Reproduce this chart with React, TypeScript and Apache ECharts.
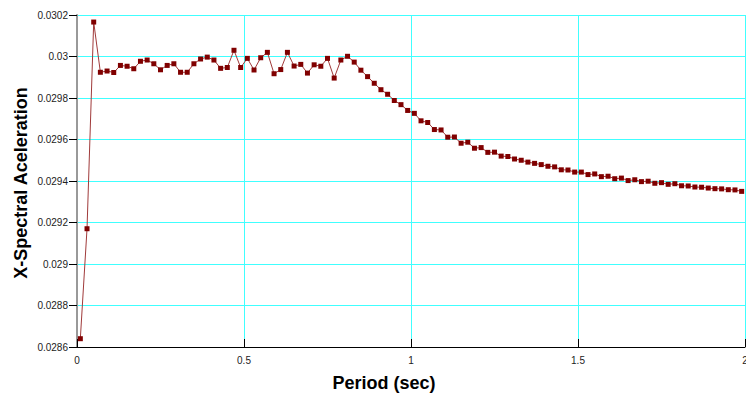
import React, { useEffect, useRef } from "react";
import * as echarts from "echarts";

const periods = [
  0.01, 0.03, 0.05, 0.07, 0.09, 0.11, 0.13, 0.15, 0.17, 0.19,
  0.21, 0.23, 0.25, 0.27, 0.29, 0.31, 0.33, 0.35, 0.37, 0.39,
  0.41, 0.43, 0.45, 0.47, 0.49, 0.51, 0.53, 0.55, 0.57, 0.59,
  0.61, 0.63, 0.65, 0.67, 0.69, 0.71, 0.73, 0.75, 0.77, 0.79,
  0.81, 0.83, 0.85, 0.87, 0.89, 0.91, 0.93, 0.95, 0.97, 0.99,
  1.01, 1.03, 1.05, 1.07, 1.09, 1.11, 1.13, 1.15, 1.17, 1.19,
  1.21, 1.23, 1.25, 1.27, 1.29, 1.31, 1.33, 1.35, 1.37, 1.39,
  1.41, 1.43, 1.45, 1.47, 1.49, 1.51, 1.53, 1.55, 1.57, 1.59,
  1.61, 1.63, 1.65, 1.67, 1.69, 1.71, 1.73, 1.75, 1.77, 1.79,
  1.81, 1.83, 1.85, 1.87, 1.89, 1.91, 1.93, 1.95, 1.97, 1.99,
];

const accel = [
  0.02864, 0.02917, 0.030166, 0.029924, 0.02993, 0.029923, 0.029957, 0.029953, 0.029941, 0.029977,
  0.029983, 0.029965, 0.029936, 0.029957, 0.029965, 0.029924, 0.029924, 0.029965, 0.029988, 0.029997,
  0.029983, 0.029943, 0.029947, 0.03003, 0.029947, 0.029991, 0.029935, 0.029994, 0.03002, 0.029917,
  0.029937, 0.03002, 0.029954, 0.029962, 0.02992, 0.02996, 0.029953, 0.029991, 0.029896, 0.029983,
  0.030001, 0.029973, 0.029934, 0.029903, 0.029871, 0.02984, 0.029818, 0.029788, 0.029768, 0.02974,
  0.029726, 0.02969, 0.029682, 0.029648, 0.029646, 0.029611, 0.029612, 0.029582, 0.029587, 0.029558,
  0.029561, 0.029538, 0.029539, 0.02952, 0.029518, 0.029506, 0.0295, 0.029491, 0.029485, 0.029479,
  0.029471, 0.029468, 0.029454, 0.029453, 0.029443, 0.029443, 0.029431, 0.029434, 0.029421, 0.029423,
  0.029411, 0.029414, 0.029402, 0.029406, 0.029397, 0.029399, 0.029389, 0.029392, 0.029384, 0.029387,
  0.029377, 0.029376, 0.029371, 0.02937, 0.029366, 0.029363, 0.029362, 0.029358, 0.029357, 0.02935,
];

const xTitle = "Period (sec)";
const yTitle = "X-Spectral Aceleration";

export default function App() {
  const ref = useRef<HTMLDivElement>(null);
  useEffect(() => {
    if (!ref.current) return;
    const chart = echarts.init(ref.current, null, { renderer: "svg" });
    const font = "'Liberation Sans', Arial, sans-serif";
    chart.setOption({
      animation: false,
      backgroundColor: "#ffffff",
      grid: {
        left: 77,
        right: 1,
        top: 15,
        bottom: 49,
        containLabel: false,
        outerBoundsMode: "none",
      },
      xAxis: {
        type: "value",
        min: 0,
        max: 2,
        interval: 0.5,
        axisLine: { show: true, onZero: false, lineStyle: { color: "#000", width: 1 } },
        axisTick: { show: true, inside: true, length: 8, lineStyle: { color: "#000" } },
        axisLabel: {
          margin: 8,
          fontSize: 10,
          color: "#222",
          fontFamily: font,
          formatter: (v: number) => String(Number(v.toFixed(2))),
        },
        splitLine: { show: true, lineStyle: { color: "#40ffff", width: 1 } },
      },
      yAxis: {
        type: "value",
        min: 0.0286,
        max: 0.0302,
        interval: 0.0002,
        axisLine: { show: true, onZero: false, lineStyle: { color: "#999", width: 2 } },
        axisTick: { show: true, inside: false, length: 8, lineStyle: { color: "#000" } },
        axisLabel: {
          margin: 9,
          fontSize: 10,
          color: "#222",
          fontFamily: font,
          formatter: (v: number) => String(Number(v.toFixed(4))),
        },
        splitLine: { show: true, lineStyle: { color: "#40ffff", width: 1 } },
      },
      graphic: [
        {
          type: "text",
          x: 384,
          y: 383,
          style: {
            text: xTitle,
            font: `bold 18px ${font}`,
            fill: "#000",
            textAlign: "center",
            textVerticalAlign: "middle",
          },
        },
        {
          type: "text",
          x: 21,
          y: 183,
          rotation: Math.PI / 2,
          style: {
            text: yTitle,
            font: `bold 18px ${font}`,
            fill: "#000",
            textAlign: "center",
            textVerticalAlign: "middle",
          },
        },
      ],
      series: [
        {
          type: "line",
          data: periods.map((p, i) => [p, accel[i]]),
          symbol: "rect",
          symbolSize: 5,
          showAllSymbol: true,
          itemStyle: { color: "#800000" },
          lineStyle: { color: "#a03a3a", width: 1 },
          clip: false,
        },
      ],
    });
    return () => chart.dispose();
  }, []);
  return (
    <div
      ref={ref}
      style={{ position: "fixed", left: 0, top: 0, width: 746, height: 396, background: "#fff" }}
    />
  );
}
